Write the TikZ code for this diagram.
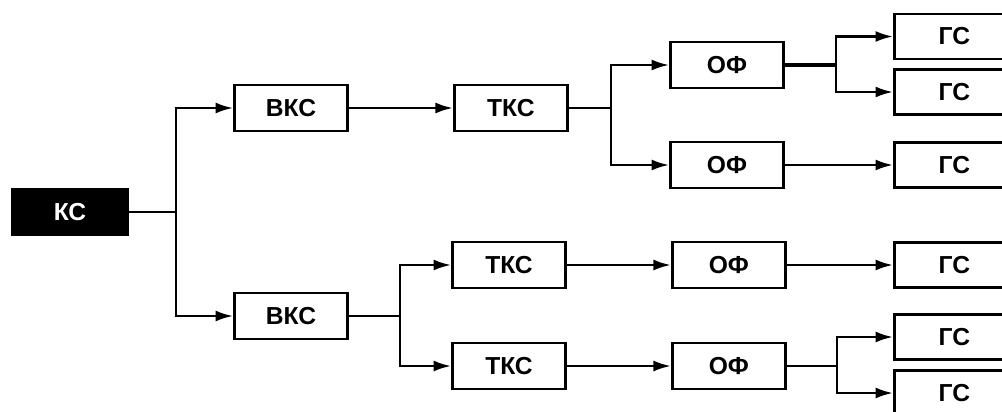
\documentclass[tikz,border=0pt]{standalone}
\usepackage{fontspec}
\setmainfont{Liberation Sans}
\usetikzlibrary{arrows.meta, positioning, calc}
\tikzset{
    blockbox/.style={draw, rectangle, line width=1.6pt, minimum width=2.26cm, minimum height=0.92cm, inner sep=0pt, font=\fontsize{14}{14}\selectfont\bfseries},
    rootbox/.style={blockbox, fill=black, text=white, minimum width=2.32cm, minimum height=0.9cm},
    endbox/.style={blockbox, anchor=west, minimum width=2.4cm, minimum height=0.9cm},
    linkline/.style={line width=1.4pt},
    thicklink/.style={line width=2.2pt},
    linkarrow/.style={linkline, -{Latex[length=3.5mm, width=2.2mm]}},
}
\begin{document}
\begin{tikzpicture}
                \useasboundingbox (0,0) rectangle (20.04,8.22);
                % Root and first level
                \node[rootbox] (ks) at (1.40,3.98) {КС};
                \node[blockbox] (vks1) at (5.82,6.06) {ВКС};
                \node[blockbox] (vks2) at (5.82,1.90) {ВКС};
                % Second level
                \node[blockbox, right=2.08cm of vks1] (tks1) {ТКС};
                \node[blockbox] (tks2) at (10.18,2.92) {ТКС};
                \node[blockbox] (tks3) at (10.18,0.90) {ТКС};
                % Third level
                \node[blockbox] (of1) at (14.54,6.92) {ОФ};
                \node[blockbox] (of2) at (14.54,4.92) {ОФ};
                \node[blockbox, right=2.08cm of tks2] (of3) {ОФ};
                \node[blockbox, right=2.08cm of tks3] (of4) {ОФ};
                % Leaves
                \node[endbox] (gs1) at (17.86,7.49) {ГС};
                \node[endbox] (gs2) at (17.86,6.38) {ГС};
                \node[endbox] (gs3) at (17.86,4.92) {ГС};
                \node[endbox] (gs4) at (17.86,2.92) {ГС};
                \node[endbox] (gs5) at (17.86,1.48) {ГС};
                \node[endbox] (gs6) at (17.86,0.36) {ГС};
                
                % Fork points
                \coordinate (f0) at (3.52,3.98);
                \coordinate (f1) at (12.22,6.06);
                \coordinate (f2) at (16.72,6.92);
                \coordinate (f3) at (8.00,1.90);
                \coordinate (f4) at (16.74,0.90);
                
                \draw[linkline] (ks) -- (f0);
                \draw[linkarrow] (f0) |- (vks1);
                \draw[linkarrow] (f0) |- (vks2);
                \draw[linkarrow] (vks1) -- (tks1);
                \draw[linkline] (tks1) -- (f1);
                \draw[linkarrow] (f1) |- (of1);
                \draw[linkarrow] (f1) |- (of2);
                \draw[thicklink] (of1) -- (f2);
                \draw[linkarrow] (f2) |- (gs1);
                \draw[linkarrow] (f2) |- (gs2);
                \draw[linkarrow] (of2) -- (gs3);
                \draw[linkline] (vks2) -- (f3);
                \draw[linkarrow] (f3) |- (tks2);
                \draw[linkarrow] (f3) |- (tks3);
                \draw[linkarrow] (tks2) -- (of3);
                \draw[linkarrow] (tks3) -- (of4);
                \draw[linkarrow] (of3) -- (gs4);
                \draw[linkline] (of4) -- (f4);
                \draw[linkarrow] (f4) |- (gs5);
                \draw[linkarrow] (f4) |- (gs6);
\end{tikzpicture}
\end{document}
